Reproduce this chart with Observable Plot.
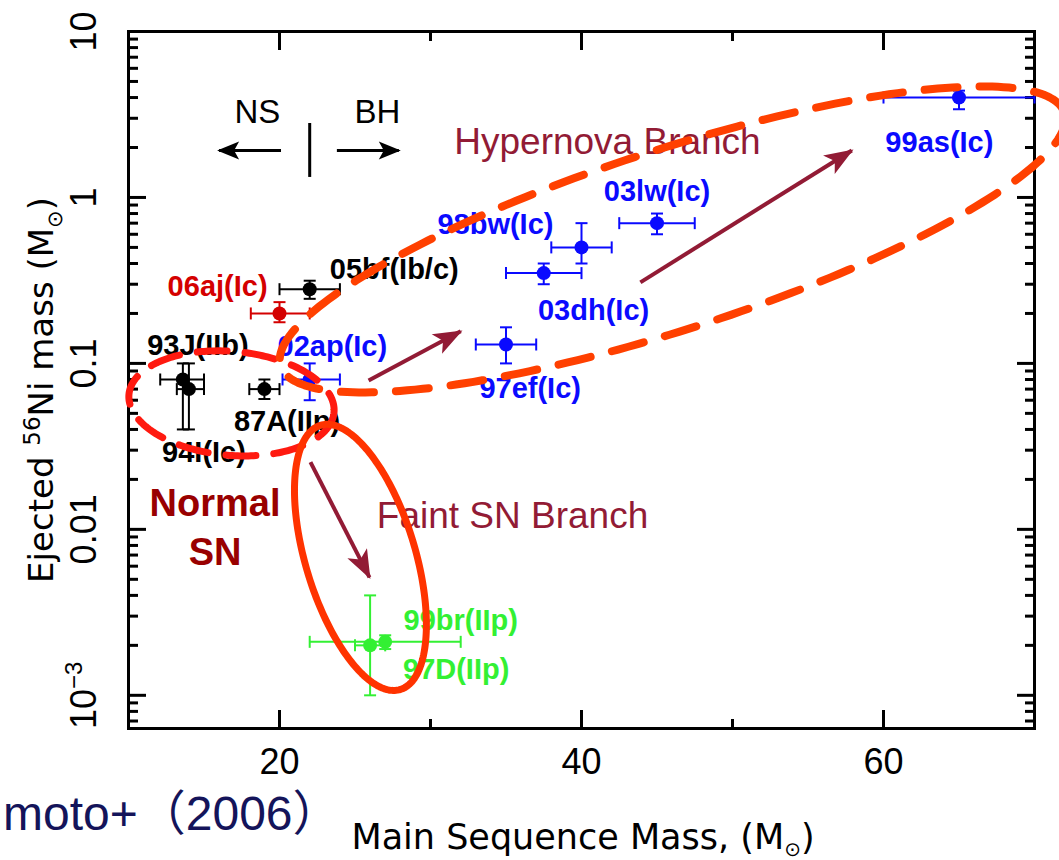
<!DOCTYPE html>
<html>
<head>
<meta charset="utf-8">
<script src="https://cdn.jsdelivr.net/npm/d3@7"></script>
<script src="https://cdn.jsdelivr.net/npm/@observablehq/plot@0.6"></script>
<style>
  html, body { margin: 0; padding: 0; background: #fff; }
  #chart { width: 1059px; height: 860px; overflow: hidden; }
</style>
</head>
<body>
<div id="chart"></div>
<script>
// ---- Supernova sample: progenitor main-sequence mass vs. ejected 56Ni mass ----
const names  = ["99as", "03lw", "98bw", "03dh", "97ef", "02ap", "06aj", "05bf", "93J", "94I", "87A", "99br", "97D"];
const group  = ["Ic", "Ic", "Ic", "Ic", "Ic", "Ic", "06aj", "other", "other", "other", "other", "faint", "faint"];
const mass   = [65, 45, 40, 37.5, 35, 22, 20, 22, 13.6, 14, 19, 27, 26];
const massLo = [60, 42.5, 38, 35, 33, 20.2, 18.1, 20, 12.1, 13.2, 18, 22, 25];
const massHi = [70, 47.5, 42, 40, 37, 24, 22, 24, 15, 15, 20, 32, 27];
const ni     = [4.0, 0.7, 0.5, 0.35, 0.13, 0.08, 0.2, 0.28, 0.08, 0.07, 0.07, 0.0021, 0.002];
const niLo   = [3.4, 0.6, 0.4, 0.3, 0.1, 0.06, 0.177, 0.245, 0.04, 0.04, 0.061, 0.0019, 0.001];
const niHi   = [4.4, 0.8, 0.7, 0.4, 0.165, 0.1, 0.234, 0.315, 0.1, 0.1, 0.08, 0.0023, 0.004];

// ---- Point labels, anchored in (mass, Ni) space ----
const labelText  = ["99as(Ic)", "03lw(Ic)", "98bw(Ic)", "03dh(Ic)", "97ef(Ic)", "02ap(Ic)", "06aj(Ic)", "05bf(Ib/c)", "93J(IIb)", "94I(Ic)", "87A(IIp)", "99br(IIp)", "97D(IIp)"];
const labelGroup = ["Ic", "Ic", "Ic", "Ic", "Ic", "Ic", "06aj", "other", "other", "other", "other", "faint", "faint"];
const labelMass  = [63.7, 45.0, 34.3, 40.8, 36.6, 23.5, 15.9, 27.6, 14.6, 15.0, 20.5, 32.0, 31.7];
const labelNi    = [2.14, 1.086, 0.688, 0.2085, 0.0706, 0.1265, 0.291, 0.368, 0.128, 0.0291, 0.0448, 0.00283, 0.001435];

// ---- Series colours ----
const groups      = ["Ic", "06aj", "other", "faint"];
const groupColors = ["#0a0aff", "#d40000", "#000000", "#33f033"];

// ---- Axis ticks ----
const xMajor = [20, 40, 60];
const xMinor = [30, 50];
const yMajor = [0.001, 0.01, 0.1, 1, 10];
const yDomain = [10 ** -3.2, 10];
const yMinor = [-4, -3, -2, -1, 0]
  .flatMap(k => d3.range(2, 10).map(m => m * 10 ** k))
  .filter(v => v >= yDomain[0] && v <= yDomain[1]);

// ---- Annotations ----
const branchArrows = [
  {x1: 43.9, y1: 0.308, x2: 57.9, y2: 1.92},
  {x1: 25.9, y1: 0.079, x2: 32.0, y2: 0.156},
  {x1: 22.05, y1: 0.0254, x2: 25.96, y2: 0.00514}
];
const nsbhArrows = [
  {x1: 20.1, x2: 16.0, y: 1.92},
  {x1: 23.8, x2: 27.9, y: 1.92}
];
const nsbhDivide = [{x: 22, y1: 1.32, y2: 2.79}];
const notes = [
  {x: 41.72, y: 2.14, text: "Hypernova Branch"},
  {x: 35.43, y: 0.01197, text: "Faint SN Branch"}
];
const nsbhText = [
  {x: 18.54, y: 3.25, text: "NS"},
  {x: 26.49, y: 3.25, text: "BH"}
];
const normalText = [{x: 15.73, y: 0.01065, text: "Normal\nSN"}];

// Outlined regions: centre and two conjugate half-axes in (mass, log10 Ni) space
const regions = [
  {id: "hypernova", cx: 46.03, cl: -0.253, ax: 25.95, al: 0.764, bx: 1.835, bl: -0.516},
  {id: "normal",    cx: 16.82, cl: -1.241, ax: 6.79,  al: -0.054, bx: -0.30, bl: -0.312},
  {id: "faint",     cx: 25.36, cl: -2.169, ax: 2.64,  al: -0.796, bx: -3.48, bl: -0.096}
];

// ---- Build tables ----
const sample = names.map((name, i) => ({
  name, group: group[i], m: mass[i], mLo: massLo[i], mHi: massHi[i],
  ni: ni[i], niLo: niLo[i], niHi: niHi[i]
}));
const labels = labelText.map((t, i) => ({text: t, group: labelGroup[i], x: labelMass[i], y: labelNi[i]}));
const outline = id => {
  const r = regions.find(d => d.id === id);
  return d3.range(0, 240).map(k => {
    const t = (k / 240) * 2 * Math.PI;
    return {
      x: r.cx + Math.cos(t) * r.ax + Math.sin(t) * r.bx,
      y: 10 ** (r.cl + Math.cos(t) * r.al + Math.sin(t) * r.bl)
    };
  });
};
const yTickLabel = d => (d === 0.001 ? "10\u207B\u00B3" : String(d));

const tickStyle = {strokeWidth: 3, fill: "none", label: null};
const maroon = "#921b35";

const svg = Plot.plot({
  width: 1059,
  height: 860,
  marginLeft: 128,
  marginRight: 25,
  marginTop: 31,
  marginBottom: 132,
  style: {fontFamily: "'Liberation Sans', Arial, sans-serif", background: "#fff", color: "#000"},
  x: {domain: [10, 70]},
  y: {type: "log", domain: yDomain},
  color: {domain: groups, range: groupColors},
  marks: [
    // inward ticks on all four sides
    Plot.axisY({anchor: "left", ticks: yMajor, tickSize: -18, ...tickStyle}),
    Plot.axisY({anchor: "left", ticks: yMinor, tickSize: -10, ...tickStyle}),
    Plot.axisY({anchor: "right", ticks: yMajor, tickSize: -18, ...tickStyle}),
    Plot.axisY({anchor: "right", ticks: yMinor, tickSize: -10, ...tickStyle}),
    Plot.axisX({anchor: "bottom", ticks: xMajor, tickSize: -18, ...tickStyle}),
    Plot.axisX({anchor: "bottom", ticks: xMinor, tickSize: -9, ...tickStyle}),
    Plot.axisX({anchor: "top", ticks: xMajor, tickSize: -18, ...tickStyle}),
    Plot.axisX({anchor: "top", ticks: xMinor, tickSize: -9, ...tickStyle}),
    // tick labels
    Plot.axisX({anchor: "bottom", ticks: xMajor, tickSize: 0, tickPadding: 20, fontSize: 36, label: null}),
    Plot.axisY({anchor: "left", ticks: yMajor, tickSize: 0, tickPadding: 33, tickRotate: -90,
      tickFormat: yTickLabel, fontSize: 36, label: null}),
    Plot.frame({strokeWidth: 3}),

    // NS / BH divide (link marks are picked up below in this order)
    Plot.ruleX(nsbhDivide, {x: "x", y1: "y1", y2: "y2", strokeWidth: 3}),
    Plot.link(nsbhArrows, {x1: "x1", x2: "x2", y1: "y", y2: "y", stroke: "#000", strokeWidth: 3}),
    Plot.text(nsbhText, {x: "x", y: "y", text: "text", fontSize: 33}),

    // annotations
    Plot.text(notes, {x: "x", y: "y", text: "text", fill: maroon, fontSize: 37}),
    Plot.text(normalText, {x: "x", y: "y", text: "text", fill: "#990000", fontSize: 38, fontWeight: "bold", lineHeight: 1.29}),
    Plot.link(branchArrows, {x1: "x1", y1: "y1", x2: "x2", y2: "y2", stroke: maroon, strokeWidth: 4}),

    // error bars and points
    Plot.link(sample, {x1: "mLo", x2: "mHi", y1: "ni", y2: "ni", stroke: "group", strokeWidth: 2}),
    Plot.link(sample, {x1: "m", x2: "m", y1: "niLo", y2: "niHi", stroke: "group", strokeWidth: 2}),
    Plot.dot(sample, {x: "m", y: "ni", fill: "group", r: 7}),
    Plot.text(labels, {x: "x", y: "y", text: "text", fill: "group", fontSize: 29, fontWeight: "bold"}),

    // outlined regions
    Plot.line(outline("normal"), {x: "x", y: "y", curve: "linear-closed", stroke: "#ff1a10", strokeWidth: 7, strokeDasharray: "30,18"}),
    Plot.line(outline("hypernova"), {x: "x", y: "y", curve: "linear-closed", stroke: "#ff4000", strokeWidth: 8, strokeDasharray: "33,22"}),
    Plot.line(outline("faint"), {x: "x", y: "y", curve: "linear-closed", stroke: "#ff3300", strokeWidth: 7})
  ]
});

// ---- Markers: error-bar caps and filled arrowheads ----
const root = d3.select(svg);
const defs = root.insert("defs", ":first-child");
const [nsbhG, branchG, massErrG, niErrG] = root.selectAll('g[aria-label="link"]').nodes();

const capIds = new Map();
function capFor(color) {
  if (!capIds.has(color)) {
    const id = "errcap" + capIds.size;
    defs.append("marker").attr("id", id)
      .attr("markerUnits", "userSpaceOnUse").attr("orient", "auto")
      .attr("viewBox", "-2 -8 4 16").attr("markerWidth", 4).attr("markerHeight", 16)
      .attr("refX", 0).attr("refY", 0)
      .append("path").attr("d", "M0,-6V6").attr("stroke", color).attr("stroke-width", 2).attr("fill", "none");
    capIds.set(color, id);
  }
  return capIds.get(color);
}
d3.selectAll([massErrG, niErrG]).selectAll("path").each(function () {
  const color = this.getAttribute("stroke") || this.parentNode.getAttribute("stroke");
  const id = capFor(color);
  this.setAttribute("marker-start", `url(#${id})`);
  this.setAttribute("marker-end", `url(#${id})`);
});

function head(id, color, len, half, notch) {
  defs.append("marker").attr("id", id)
    .attr("markerUnits", "userSpaceOnUse").attr("orient", "auto")
    .attr("viewBox", `${-len - 2} ${-half - 2} ${len + 6} ${2 * half + 4}`)
    .attr("markerWidth", len + 6).attr("markerHeight", 2 * half + 4)
    .attr("refX", 0).attr("refY", 0)
    .append("path").attr("d", `M2,0L${-len},${-half}L${-len + notch},0L${-len},${half}Z`).attr("fill", color);
}
head("headMaroon", maroon, 27, 11, 7);
head("headBlack", "#000", 20, 9, 5);
d3.select(branchG).selectAll("path").attr("marker-end", "url(#headMaroon)");
d3.select(nsbhG).selectAll("path").attr("marker-end", "url(#headBlack)");

// ---- 10^-3 tick label with a real superscript ----
root.selectAll("text").each(function () {
  if (this.textContent === "10\u207B\u00B3") {
    const t = d3.select(this);
    t.text("10");
    t.append("tspan").attr("font-size", 24).attr("dy", -14).text("\u22123");
  }
});

// ---- Axis titles and caption ----
const xTitle = root.append("text")
  .attr("x", 583).attr("y", 849).attr("text-anchor", "middle")
  .attr("font-family", "'DejaVu Sans', sans-serif").attr("font-size", 35).attr("fill", "#000");
xTitle.append("tspan").text("Main Sequence Mass, (M");
xTitle.append("tspan").attr("font-size", 20).attr("dy", 7).text("\u2299");
xTitle.append("tspan").attr("dy", -7).text(")");

const yTitle = root.append("text")
  .attr("transform", "translate(53,390) rotate(-90)").attr("text-anchor", "middle")
  .attr("font-family", "'DejaVu Sans', sans-serif").attr("font-size", 34).attr("fill", "#000");
yTitle.append("tspan").text("Ejected ");
yTitle.append("tspan").attr("font-size", 23).attr("dy", -13).text("56");
yTitle.append("tspan").attr("dy", 13).text("Ni mass (M");
yTitle.append("tspan").attr("font-size", 21).attr("dy", 9).text("\u2299");
yTitle.append("tspan").attr("dy", -9).text(")");

root.append("text")
  .attr("x", 3).attr("y", 830).attr("text-anchor", "start")
  .attr("font-family", "'Liberation Sans', 'Noto Sans CJK JP', sans-serif").attr("font-size", 48)
  .attr("fill", "#14145a").text("moto+\uFF082006\uFF09");

document.getElementById("chart").append(svg);
</script>
</body>
</html>
